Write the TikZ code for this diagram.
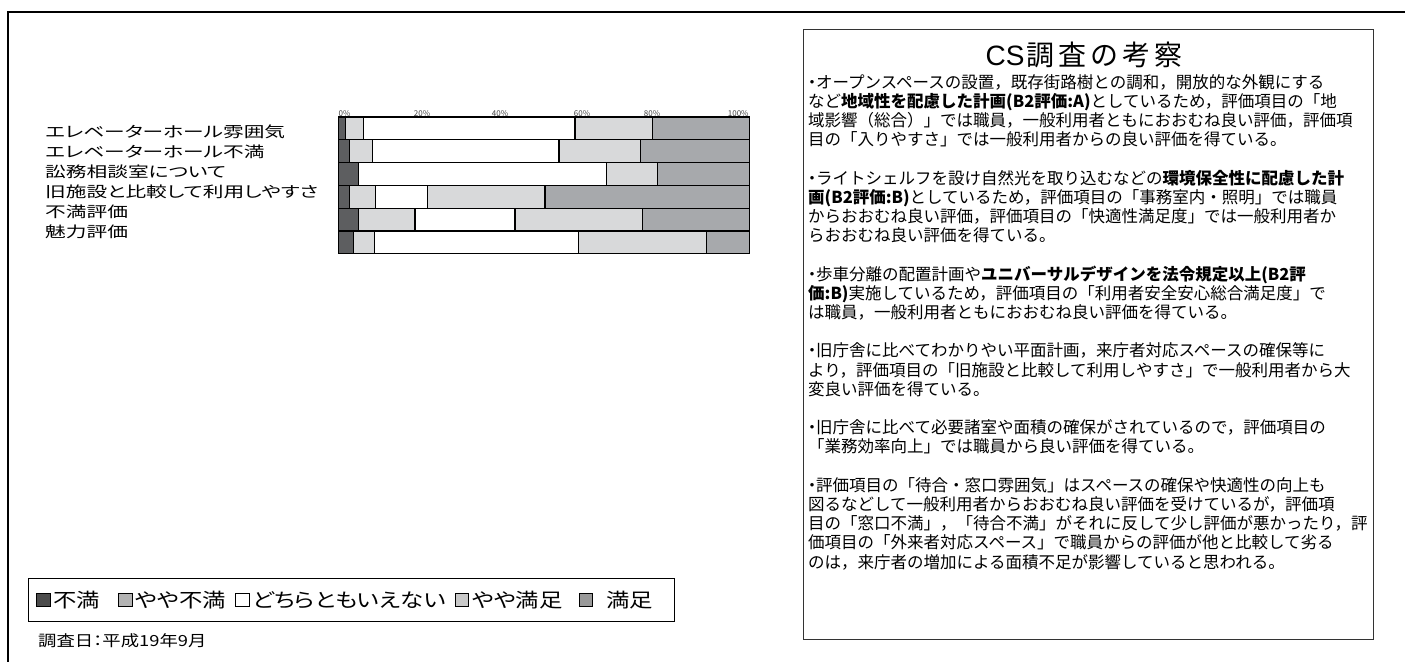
\documentclass[tikz,border=0pt]{standalone}
\usepackage{fontspec}
\setmainfont{Noto Sans CJK JP}
\newfontfamily\widejp{Noto Sans CJK JP}[FakeStretch=1.38,RawFeature=+palt]
\newfontfamily\keyjp{Noto Sans CJK JP}[FakeStretch=1.2,RawFeature=+palt]
\newfontfamily\latinsf{Liberation Sans}
\usepackage{tikz}
\usetikzlibrary{positioning}
\definecolor{cFuman}{HTML}{5D5E60}
\definecolor{cYayaFuman}{HTML}{D8D9DA}
\definecolor{cYayaManzoku}{HTML}{D8D9DA}
\definecolor{cManzoku}{HTML}{A7A9AC}
\definecolor{kFuman}{HTML}{4B4B4B}
\definecolor{kYayaFuman}{HTML}{B3B3B3}
\definecolor{kYayaManzoku}{HTML}{C9C9C9}
\definecolor{kManzoku}{HTML}{999999}
\newcommand\ten{\makebox[8pt]{・}}
\newcommand\wch[1]{\makebox[32pt]{#1}}

\begin{document}
\begin{tikzpicture}[x=1pt,y=-1pt]
% Styles for the bars, scale labels and the key
\tikzstyle{bar}=[draw=black,line width=1.3pt];
\tikzstyle{pct}=[font=\fontsize{8}{8}\selectfont,text=black!75,inner sep=0.5,anchor=south];
\tikzstyle{key box}=[draw,line width=0.8pt,minimum size=13.5pt,inner sep=0];
\tikzstyle{key text}=[font=\keyjp\fontsize{19.5}{19.5}\selectfont,inner sep=0];
\useasboundingbox (0,0) rectangle (1405,662);
% Page frame
\draw[line width=1.5pt] (1405,12) -- (8,12) -- (8,662);
% Item names
\node(items)[anchor=north west,align=left,inner sep=0,
  font=\widejp\fontsize{15}{20}\selectfont] at (45,124.5)
  {エレベーターホール雰囲気\\エレベーターホール不満\\訟務相談室について\\
   旧施設と比較して利用しやすさ\\不満評価\\魅力評価};
% Scale
\node(p0)[pct,anchor=south west] at (338,117) {0\%};
\node(p20)[pct] at (422,117) {20\%};
\node(p40)[pct] at (500,117) {40\%};
\node(p60)[pct] at (582,117) {60\%};
\node(p80)[pct] at (652,117) {80\%};
\node(p100)[pct,anchor=south east] at (749.3,117) {100\%};
% The stacked bars
\foreach \a/\b/\c/\d/\e/\f [count=\i from 0] in
  {338.3/345.7/363.3/575/652.3/749.3,
   338.3/349.3/372.3/559/640.7/749.3,
   338.3/358.3/358.3/606.7/657.7/749.3,
   338.3/349.3/375.7/427.3/545/749.3,
   338.3/358.3/415/515/642.3/749.3,
   338.3/353.3/374.3/578.3/706.7/749.3}{
  \pgfmathsetmacro\yt{117+\i*22.8}
  \pgfmathsetmacro\yb{\yt+22.8}
  \filldraw[bar,fill=cFuman](\a,\yt)rectangle(\b,\yb);
  \filldraw[bar,fill=cYayaFuman](\b,\yt)rectangle(\c,\yb);
  \filldraw[bar,fill=white](\c,\yt)rectangle(\d,\yb);
  \filldraw[bar,fill=cYayaManzoku](\d,\yt)rectangle(\e,\yb);
  \filldraw[bar,fill=cManzoku](\e,\yt)rectangle(\f,\yb);
}
% Key
\node(key)[draw,line width=1pt,minimum width=646pt,minimum height=43pt,anchor=north west] at (28,578) {};
\node(k1)[key box,fill=kFuman] at (43.5,600) {};
\node(t1)[key text,right=2.5pt of k1] {不満};
\node(k2)[key box,fill=kYayaFuman,right=18pt of t1] {};
\node(t2)[key text,right=2.5pt of k2] {やや不満};
\node(k3)[key box,fill=white,right=9pt of t2] {};
\node(t3)[key text,right=2.5pt of k3] {どちらともいえない};
\node(k4)[key box,fill=kYayaManzoku,right=9pt of t3] {};
\node(t4)[key text,right=2.5pt of k4] {やや満足};
\node(k5)[key box,fill=kManzoku,right=16pt of t4] {};
\node(t5)[key text,right=13pt of k5] {満足};
\node(date)[anchor=west,inner sep=0,font=\keyjp\fontsize{15.3}{15.3}\selectfont] at (38,641) {調査日：平成19年9月};
% Findings box
\draw[line width=1pt,black!80](803,29)rectangle(1373,639);
\node(title)[inner sep=0,font=\fontsize{28}{28}\selectfont] at (1085,55)
  {{\latinsf CS}\wch{調}\wch{査}\wch{の}\wch{考}\wch{察}};
\node(notes)[anchor=north west,align=left,inner sep=0,
  font=\fontsize{16.5}{19.2}\selectfont] at (808,74)
  {\ten オープンスペースの設置，既存街路樹との調和，開放的な外観にする\\
   など{\bfseries 地域性を配慮した計画(B2評価:A)}としているため，評価項目の「地\\
   域影響（総合）」では職員，一般利用者ともにおおむね良い評価，評価項\\
   目の「入りやすさ」では一般利用者からの良い評価を得ている。\\[19.2pt]
   \ten ライトシェルフを設け自然光を取り込むなどの{\bfseries 環境保全性に配慮した計}\\
   {\bfseries 画(B2評価:B)}としているため，評価項目の「事務室内・照明」では職員\\
   からおおむね良い評価，評価項目の「快適性満足度」では一般利用者か\\
   らおおむね良い評価を得ている。\\[19.2pt]
   \ten 歩車分離の配置計画や{\bfseries ユニバーサルデザインを法令規定以上(B2評}\\
   {\bfseries 価:B)}実施しているため，評価項目の「利用者安全安心総合満足度」で\\
   は職員，一般利用者ともにおおむね良い評価を得ている。\\[19.2pt]
   \ten 旧庁舎に比べてわかりやい平面計画，来庁者対応スペースの確保等に\\
   より，評価項目の「旧施設と比較して利用しやすさ」で一般利用者から大\\
   変良い評価を得ている。\\[19.2pt]
   \ten 旧庁舎に比べて必要諸室や面積の確保がされているので，評価項目の\\
   「業務効率向上」では職員から良い評価を得ている。\\[19.2pt]
   \ten 評価項目の「待合・窓口雰囲気」はスペースの確保や快適性の向上も\\
   図るなどして一般利用者からおおむね良い評価を受けているが，評価項\\
   目の「窓口不満」，「待合不満」がそれに反して少し評価が悪かったり，評\\
   価項目の「外来者対応スペース」で職員からの評価が他と比較して劣る\\
   のは，来庁者の増加による面積不足が影響していると思われる。};
\end{tikzpicture}
\end{document}
